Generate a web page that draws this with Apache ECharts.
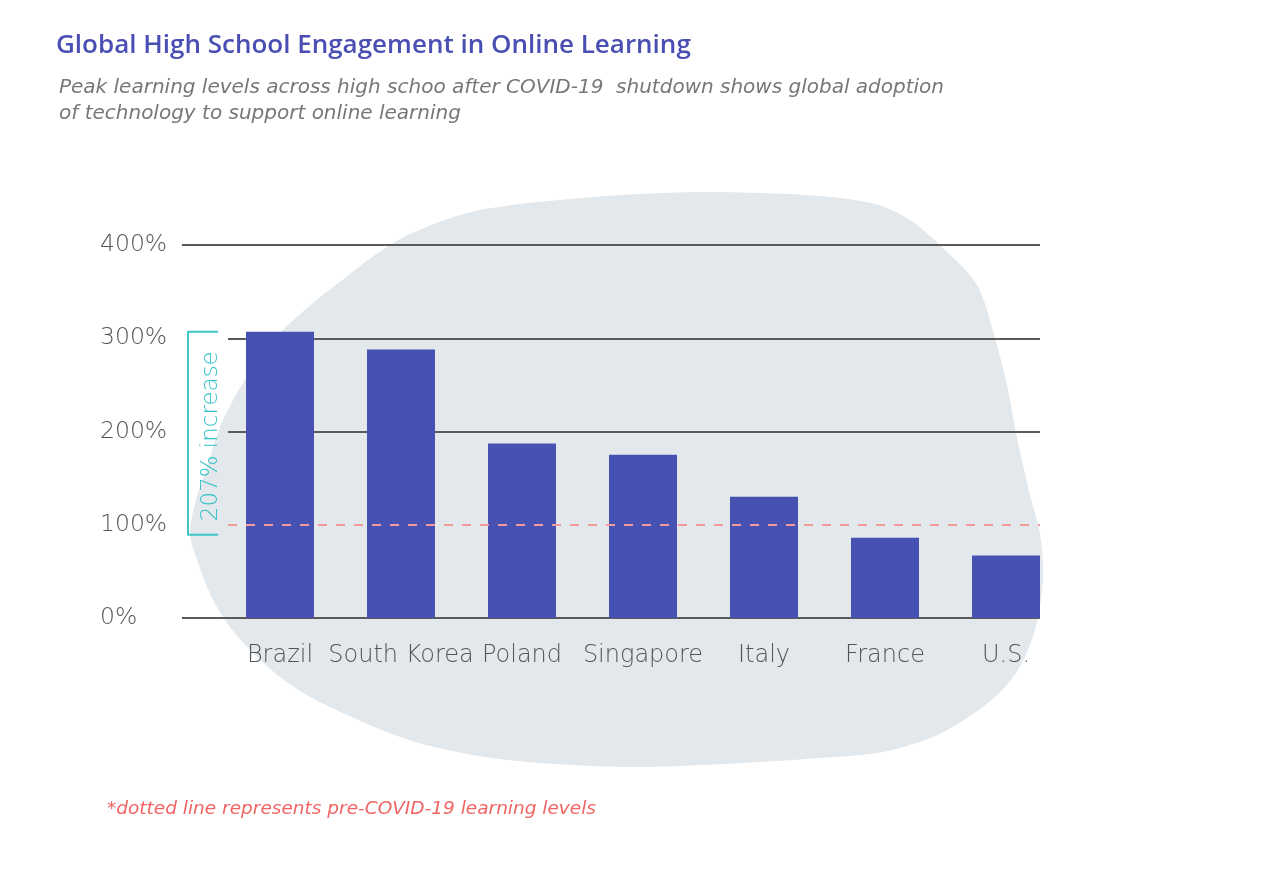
<!DOCTYPE html>
<html>
<head>
<meta charset="utf-8">
<title>Global High School Engagement in Online Learning</title>
<script src="https://cdn.jsdelivr.net/npm/echarts@6/dist/echarts.min.js"></script>
<style>
  html, body { margin: 0; padding: 0; background: #fff; }
  #chart { width: 1280px; height: 889px; }
</style>
</head>
<body>
<div id="chart"></div>
<script>
// data
const countries = ['Brazil', 'South Korea', 'Poland', 'Singapore', 'Italy', 'France', 'U.S.'];
const peakLevels = [307, 288, 187, 175, 130, 86, 67];
const yTicks = [0, 100, 200, 300, 400];
const baseline = 100; // pre-COVID level
const increaseLabel = '207% increase';

const FONT = '"DejaVu Sans", sans-serif';
const TITLE_FONT = '"Open Sans", sans-serif';
const LINE = '#5a5a5a';

// grey blob behind the chart (decoration only)
const blobPoints = [
    [582, 198], [640, 194], [700, 192], [760, 193], [820, 196], [875, 204],
    [910, 220], [945, 250], [977, 285], [993, 331], [1007, 385], [1017, 438],
    [1030, 495], [1040, 534], [1043, 580], [1035, 630], [1018, 670], [995, 697],
    [967, 718], [933, 737], [883, 752], [820, 758], [724, 764], [628, 767],
    [540, 763], [485, 757], [430, 746], [389, 733], [343, 713], [310, 697],
    [280, 677], [253, 653], [230, 627], [213, 600], [197, 560], [190, 533],
    [196, 500], [207, 467], [220, 427], [237, 393], [258, 360], [282, 331],
    [313, 303], [345, 278], [375, 255], [410, 234], [467, 213], [520, 204]
];

const yMin = yTicks[0], yMax = yTicks[yTicks.length - 1], yStep = yTicks[1] - yTicks[0];

const myChart = echarts.init(document.getElementById('chart'));

// split line colours per tick: grid 0 draws 0% and 400%, grid 1 draws 200% and 300%
const outerColors = yTicks.map(v => (v === yMin || v === yMax) ? LINE : 'transparent');
const innerColors = yTicks.map(v => (v !== yMin && v !== yMax && v !== baseline) ? LINE : 'transparent');

const option = {
    backgroundColor: '#fff',
    animation: false,
    title: [
        {
            text: 'Global High School Engagement in Online Learning',
            left: 51, top: 28,
            textStyle: { fontFamily: TITLE_FONT, fontSize: 26, fontWeight: 600, color: '#4a4fb3' }
        },
        {
            text: 'Peak learning levels across high schoo after COVID-19  shutdown shows global adoption\nof technology to support online learning',
            left: 54, top: 70,
            textStyle: { fontFamily: FONT, fontSize: 20, fontStyle: 'italic', fontWeight: 200, color: '#777', lineHeight: 26 }
        },
        {
            text: '*dotted line represents pre-COVID-19 learning levels',
            left: 102, top: 795,
            textStyle: { fontFamily: FONT, fontSize: 18.5, fontStyle: 'italic', fontWeight: 200, color: '#f26464' }
        }
    ],
    grid: [
        { left: 182, right: 240, top: 245, bottom: 271 },
        { left: 228, right: 240, top: 245, bottom: 271 },
        { left: 219.5, right: 213.5, top: 245, bottom: 271 }
    ],
    xAxis: [
        { gridIndex: 0, type: 'value', min: 0, max: 1, show: false },
        { gridIndex: 1, type: 'value', min: 0, max: 1, show: false },
        {
            gridIndex: 2,
            type: 'category',
            data: countries,
            axisLine: { show: false },
            axisTick: { show: false },
            axisLabel: { interval: 0, margin: 26, fontFamily: FONT, fontSize: 24, fontWeight: 200, color: '#555' }
        }
    ],
    yAxis: [
        {
            gridIndex: 0, type: 'value', min: yMin, max: yMax, interval: yStep,
            axisLine: { show: false }, axisTick: { show: false },
            axisLabel: {
                align: 'left', margin: 82,
                formatter: '{value}%',
                fontFamily: FONT, fontSize: 23.5, fontWeight: 200, color: '#555'
            },
            splitLine: { show: true, lineStyle: { color: outerColors, width: 2 } }
        },
        {
            gridIndex: 1, type: 'value', min: yMin, max: yMax, interval: yStep,
            axisLine: { show: false }, axisTick: { show: false }, axisLabel: { show: false },
            splitLine: { show: true, lineStyle: { color: innerColors, width: 2 } }
        },
        {
            gridIndex: 2, type: 'value', min: yMin, max: yMax, interval: yStep,
            show: false, splitLine: { show: false }
        }
    ],
    series: [
        {
            // carrier for the pre-COVID dashed line
            type: 'line',
            xAxisIndex: 1, yAxisIndex: 1,
            data: [],
            markLine: {
                silent: true,
                symbol: ['none', 'none'],
                label: { show: false },
                lineStyle: { color: '#f49a9a', width: 2, type: [9, 9] },
                data: [{ yAxis: baseline }]
            }
        },
        {
            type: 'bar',
            xAxisIndex: 2, yAxisIndex: 2,
            z: 3,
            data: peakLevels,
            barWidth: 68,
            itemStyle: { color: '#4751b1' }
        }
    ]
};

myChart.setOption(option);

// annotation bracket, placed from the data through the axis
function drawAnnotations() {
    let yTop = myChart.convertToPixel({ yAxisIndex: 0 }, peakLevels[0]);
    let yBase = myChart.convertToPixel({ yAxisIndex: 0 }, baseline) + 10;
    let x0 = 188, x1 = 218;
    myChart.setOption({
        graphic: [
            {
                type: 'polygon', z: -10, silent: true,
                shape: { points: blobPoints, smooth: 0.3 },
                style: { fill: '#e3e8ec' }
            },
            {
                type: 'polyline', z: 5, silent: true,
                shape: { points: [[x1, yTop], [x0, yTop], [x0, yBase], [x1, yBase]] },
                style: { stroke: '#3fc6c9', lineWidth: 2, fill: null }
            },
            {
                type: 'text', z: 5, silent: true,
                x: 211, y: (yTop + yBase) / 2 + 3,
                rotation: Math.PI / 2,
                style: {
                    text: increaseLabel,
                    fontFamily: FONT, fontSize: 23, fontWeight: 200,
                    fill: '#32c2c6', align: 'center', verticalAlign: 'middle'
                }
            }
        ]
    });
}
drawAnnotations();
</script>
</body>
</html>
